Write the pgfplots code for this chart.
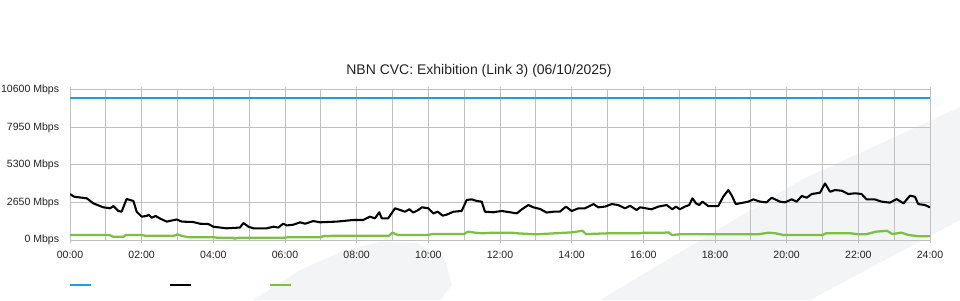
\documentclass[border=0pt]{standalone}
\usepackage{fontspec}
\setmainfont{Liberation Sans}
\usepackage{pgfplots}
\pgfplotsset{compat=1.18}
\definecolor{cvcblue}{HTML}{1BA1E2}
\definecolor{cvcgreen}{HTML}{7AC143}
\definecolor{gridgray}{HTML}{C0C0C0}
\definecolor{wm}{HTML}{F3F4F6}
\definecolor{labelgray}{HTML}{222222}
\begin{document}
\begin{tikzpicture}
\path[use as bounding box] (0,0) rectangle (720pt,225pt);
% watermark shapes
\fill[wm] (189.75pt,0pt) -- (225pt,22.5pt) -- (258.75pt,37.5pt) -- (285pt,43.5pt) -- (312.75pt,42.75pt) -- (333.75pt,30pt) -- (339pt,11.25pt) -- (330pt,0pt) -- cycle;
\fill[wm] (450pt,0pt) -- (600.75pt,90pt) -- (720pt,144.75pt) -- (720pt,60pt) -- (607.5pt,0pt) -- cycle;
\begin{axis}[
  at={(52.5pt,45pt)}, anchor=south west,
  scale only axis, width=645pt, height=112.5pt,
  xmin=0, xmax=24, ymin=0, ymax=10600,
  scaled y ticks=false, scaled x ticks=false,
  xtick={0,2,...,24},
  xticklabels={00:00,02:00,04:00,06:00,08:00,10:00,12:00,14:00,16:00,18:00,20:00,22:00,24:00},
  minor xtick={1,3,...,23},
  ytick={0,2650,5300,7950,10600},
  yticklabels={0 Mbps,2650 Mbps,5300 Mbps,7950 Mbps,10600 Mbps},
  grid=both,
  major grid style={draw=gridgray, line width=0.75pt},
  minor grid style={draw=gridgray, line width=0.75pt},
  axis line style={draw=gridgray, line width=0.75pt},
  tick align=outside,
  major tick length=2.5pt, minor tick length=0pt,
  xtick style={draw=gridgray, line width=0.75pt},
  ytick style={draw=none},
  tick label style={font=\fontsize{7.9}{9}\selectfont, text=labelgray},
  yticklabel style={anchor=east, inner sep=0pt, xshift=-5.5pt},
  xticklabel style={anchor=north, inner sep=0pt, yshift=-5.5pt},
  title={NBN CVC: Exhibition (Link 3) (06/10/2025)},
  title style={at={(0.5,1)}, anchor=center, yshift=8.25pt, xshift=-15.75pt, inner sep=0pt, font=\fontsize{10.5}{12}\selectfont, text=labelgray},
]
\addplot[cvcblue, line width=1.5pt] coordinates {(0,10000) (24,10000)};
\addplot[black, line width=1.55pt, line join=round] coordinates {
(0,3250) (0.11,3060) (0.47,2945) (0.65,2590) (0.93,2310) (1.12,2240) (1.21,2400) (1.35,2050) (1.44,2000)
(1.58,2900) (1.77,2755) (1.86,2000) (2.0,1650) (2.14,1700) (2.2,1780) (2.28,1570) (2.39,1700) (2.51,1520)
(2.70,1300) (2.98,1450) (3.12,1300) (3.44,1270) (3.63,1150) (3.86,1130) (4.0,940) (4.37,825) (4.74,880)
(4.84,1200) (4.98,940) (5.12,825) (5.49,825) (5.68,940) (5.81,880) (5.95,1150) (6.05,1030) (6.23,1080)
(6.42,1250) (6.56,1150) (6.79,1340) (6.98,1250) (7.44,1300) (7.9,1413) (8.18,1413) (8.37,1650) (8.51,1530)
(8.63,1960) (8.7,1530) (8.88,1530) (9.07,2240) (9.21,2120) (9.35,2000) (9.47,2170) (9.58,1940) (9.72,2120)
(9.82,2310) (10.0,2240) (10.14,1880) (10.26,2000) (10.4,1720) (10.52,1800) (10.7,2000) (10.93,2050)
(11.07,2830) (11.21,2870) (11.35,2760) (11.49,2710) (11.58,2000) (11.81,1960) (12.05,2050) (12.28,1960)
(12.47,1880) (12.61,2170) (12.79,2470) (12.93,2310) (13.12,2190) (13.3,1940) (13.49,2000) (13.67,2000)
(13.84,2360) (14.0,2050) (14.19,2240) (14.37,2240) (14.61,2540) (14.74,2310) (14.93,2360) (15.12,2540)
(15.3,2470) (15.49,2240) (15.63,2420) (15.81,2120) (15.91,2310) (16.23,2170) (16.42,2360) (16.65,2470)
(16.81,2170) (16.91,2360) (17.02,2170) (17.16,2360) (17.28,2470) (17.37,2945) (17.47,2590) (17.56,2470)
(17.65,2710) (17.81,2400) (18.09,2400) (18.23,3060) (18.37,3530) (18.46,3180) (18.58,2540) (18.79,2640)
(18.93,2710) (19.07,2870) (19.26,2710) (19.44,2660) (19.58,2990) (19.81,2710) (19.95,2660) (20.14,2870)
(20.28,2710) (20.42,3110) (20.56,2990) (20.7,3250) (20.93,3340) (21.07,4000) (21.21,3410) (21.35,3530)
(21.54,3480) (21.72,3250) (21.91,3300) (22.09,3250) (22.23,2870) (22.46,2870) (22.65,2710) (22.88,2640)
(23.07,2890) (23.26,2590) (23.44,3130) (23.58,3060) (23.67,2540) (23.86,2470) (24.0,2310)
};
\addplot[cvcgreen, line width=1.7pt, line join=round] coordinates {
(0,353) (1.1,353) (1.2,235) (1.5,235) (1.55,353) (2.0,353) (2.1,300) (2.9,300) (3.0,400) (3.1,300)
(3.3,200) (4.0,200) (4.1,165) (4.55,165) (4.6,90) (4.7,165) (6.0,165) (6.1,200) (7.0,200) (7.1,300)
(7.2,260) (7.3,300) (8.9,300) (9.0,520) (9.15,353) (10.0,353) (10.1,420) (11.0,420) (11.1,590) (11.3,520)
(11.5,470) (11.8,520) (12.3,520) (12.5,470) (13.0,400) (13.5,470) (14.0,540) (14.3,650) (14.4,420)
(15.0,470) (15.9,470) (16.0,520) (16.6,520) (16.7,540) (16.8,353) (17.0,400) (18.5,400) (19.2,400)
(19.5,520) (19.7,470) (19.9,353) (21.0,353) (21.1,470) (21.8,470) (22.0,400) (22.2,400) (22.5,590)
(22.8,650) (22.95,420) (23.2,520) (23.4,353) (23.7,260) (24,260)
};
\end{axis}
% legend samples
\draw[cvcblue, line width=1.5pt] (52.5pt,11.25pt) -- (68.25pt,11.25pt);
\draw[black, line width=1.5pt] (127.5pt,11.25pt) -- (143.25pt,11.25pt);
\draw[cvcgreen, line width=1.5pt] (202.5pt,11.25pt) -- (218.25pt,11.25pt);
\end{tikzpicture}
\end{document}
